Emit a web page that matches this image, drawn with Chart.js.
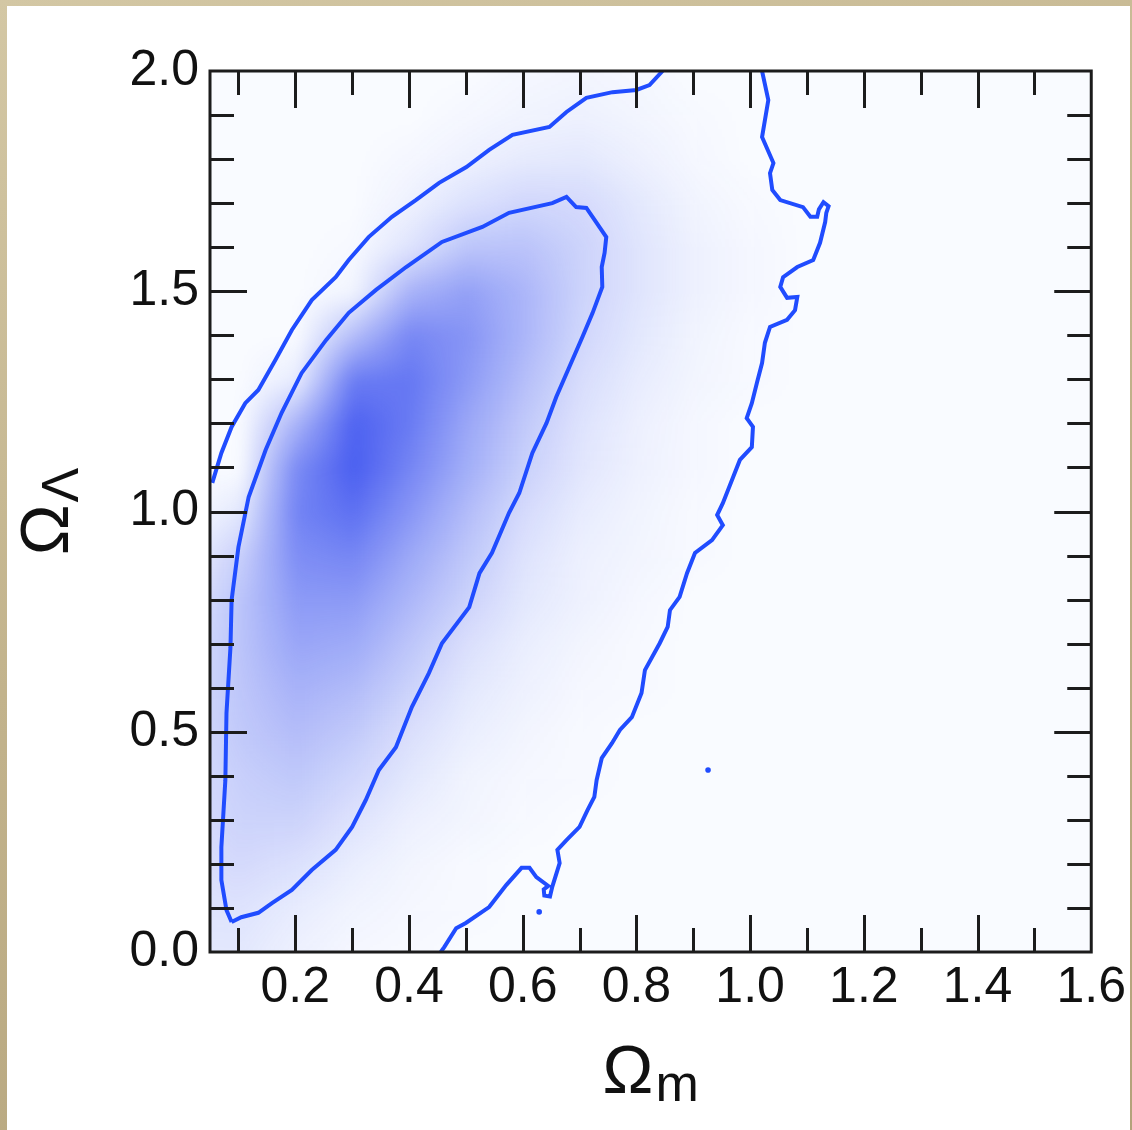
<!DOCTYPE html>
<html>
<head>
<meta charset="utf-8">
<script src="https://cdn.jsdelivr.net/npm/chart.js@4/dist/chart.umd.min.js"></script>
<style>
  html, body { margin: 0; padding: 0; }
  body {
    width: 1132px; height: 1130px; overflow: hidden; position: relative;
    background: linear-gradient(160deg, #d3c7a4 0%, #c2b38c 45%, #b3a27a 100%);
  }
  #panel { position: absolute; left: 7px; top: 6px; width: 1123px; height: 1124px; background: #ffffff; }
  #plot { position: absolute; left: 0; top: 0; }
</style>
</head>
<body>
<div id="panel"></div>
<canvas id="plot" width="1132" height="1130"></canvas>
<script>
// Axis ticks
const xTickLabels = [0.2, 0.4, 0.6, 0.8, 1.0, 1.2, 1.4, 1.6];
const xTickMarks = [0.1, 0.2, 0.3, 0.4, 0.5, 0.6, 0.7, 0.8, 0.9, 1.0, 1.1, 1.2, 1.3, 1.4, 1.5];
const yTickLabels = [0.0, 0.5, 1.0, 1.5, 2.0];
const yTickMarks = [0.1, 0.2, 0.3, 0.4, 0.5, 0.6, 0.7, 0.8, 0.9, 1.0, 1.1, 1.2, 1.3, 1.4, 1.5, 1.6, 1.7, 1.8, 1.9];

// Posterior density on a 0.1 grid (percent of peak shade), rows from Ω_Λ = 2.0 down to 0.0
const densityX = [0.0, 0.1, 0.2, 0.3, 0.4, 0.5, 0.6, 0.7, 0.8, 0.9, 1.0, 1.1, 1.2, 1.3, 1.4, 1.5, 1.6];
const densityY = [2.0, 1.9, 1.8, 1.7, 1.6, 1.5, 1.4, 1.3, 1.2, 1.1, 1.0, 0.9, 0.8, 0.7, 0.6, 0.5, 0.4, 0.3, 0.2, 0.1, 0.0];
const densityRows = [
  [ 0,  0,  0,  0,  0,  0,  2,  3,  2,  0,  0, 0, 0, 0, 0, 0, 0],
  [ 0,  0,  0,  0,  0,  2,  4,  5,  3,  1,  0, 0, 0, 0, 0, 0, 0],
  [ 0,  0,  0,  0,  2,  5,  9, 10,  6,  2,  0, 0, 0, 0, 0, 0, 0],
  [ 0,  0,  0,  0,  5, 14, 20, 18, 10,  4,  1, 0, 0, 0, 0, 0, 0],
  [ 0,  0,  0,  1, 13, 30, 31, 22, 12,  5,  2, 0, 0, 0, 0, 0, 0],
  [ 0,  0,  0,  3, 40, 50, 38, 22, 12,  5,  2, 0, 0, 0, 0, 0, 0],
  [ 0,  0,  0, 34, 64, 56, 38, 20, 10,  4,  1, 0, 0, 0, 0, 0, 0],
  [ 0,  0,  8, 70, 72, 53, 33, 16,  8,  3,  1, 0, 0, 0, 0, 0, 0],
  [ 0,  0, 40, 84, 70, 46, 27, 13,  6,  2,  0, 0, 0, 0, 0, 0, 0],
  [ 0,  0, 62, 86, 64, 42, 23, 11,  5,  2,  0, 0, 0, 0, 0, 0, 0],
  [ 0, 10, 66, 76, 55, 34, 17,  8,  4,  1,  0, 0, 0, 0, 0, 0, 0],
  [ 4, 24, 60, 64, 45, 28, 13,  6,  3,  1,  0, 0, 0, 0, 0, 0, 0],
  [10, 30, 53, 53, 37, 22, 10,  5,  2,  0,  0, 0, 0, 0, 0, 0, 0],
  [14, 30, 47, 44, 29, 15,  7,  3,  1,  0,  0, 0, 0, 0, 0, 0, 0],
  [16, 29, 40, 35, 22, 10,  5,  2,  1,  0,  0, 0, 0, 0, 0, 0, 0],
  [16, 27, 34, 27, 15,  7,  3,  1,  0,  0,  0, 0, 0, 0, 0, 0, 0],
  [16, 24, 28, 20, 10,  4,  2,  1,  0,  0,  0, 0, 0, 0, 0, 0, 0],
  [15, 22, 22, 13,  6,  3,  1,  0,  0,  0,  0, 0, 0, 0, 0, 0, 0],
  [14, 18, 14,  7,  3,  1,  0,  0,  0,  0,  0, 0, 0, 0, 0, 0, 0],
  [12, 13,  8,  4,  2,  1,  0,  0,  0,  0,  0, 0, 0, 0, 0, 0, 0],
  [10, 10,  5,  2,  1,  0,  0,  0,  0,  0,  0, 0, 0, 0, 0, 0, 0]
];

// 68% contour (closed)
const innerContour = [
  [0.088, 0.068], [0.079, 0.095], [0.070, 0.163], [0.070, 0.238], [0.077, 0.390],
  [0.079, 0.543], [0.086, 0.692], [0.088, 0.799], [0.100, 0.919], [0.118, 1.033],
  [0.148, 1.140], [0.176, 1.224], [0.211, 1.314], [0.254, 1.389], [0.294, 1.451],
  [0.342, 1.503], [0.395, 1.555], [0.458, 1.612], [0.529, 1.646], [0.576, 1.678],
  [0.652, 1.700], [0.677, 1.714], [0.694, 1.691], [0.712, 1.689], [0.730, 1.655],
  [0.747, 1.623], [0.744, 1.587], [0.739, 1.555], [0.740, 1.510], [0.723, 1.451],
  [0.705, 1.396], [0.682, 1.328], [0.659, 1.260], [0.642, 1.201], [0.617, 1.133],
  [0.594, 1.042], [0.576, 0.997], [0.546, 0.906], [0.524, 0.860], [0.506, 0.783],
  [0.458, 0.701], [0.435, 0.633], [0.405, 0.556], [0.377, 0.465], [0.347, 0.413],
  [0.324, 0.345], [0.300, 0.284], [0.271, 0.232], [0.229, 0.186], [0.194, 0.141],
  [0.159, 0.111], [0.135, 0.089], [0.105, 0.079], [0.088, 0.068]
];

// 95% contour, upper-left branch
const outerContourLeft = [
  [0.054, 1.065], [0.070, 1.133], [0.088, 1.192], [0.112, 1.246], [0.135, 1.276],
  [0.165, 1.344], [0.194, 1.412], [0.229, 1.480], [0.271, 1.532], [0.294, 1.571],
  [0.329, 1.623], [0.370, 1.669], [0.412, 1.707], [0.453, 1.746], [0.501, 1.782],
  [0.541, 1.821], [0.582, 1.855], [0.647, 1.873], [0.677, 1.907], [0.712, 1.939],
  [0.758, 1.952], [0.800, 1.957], [0.823, 1.968], [0.846, 2.000]
];

// 95% contour, right branch
const outerContourRight = [
  [1.021, 2.000], [1.032, 1.934], [1.021, 1.850], [1.041, 1.791], [1.035, 1.768],
  [1.039, 1.730], [1.053, 1.707], [1.093, 1.691], [1.106, 1.669], [1.118, 1.669],
  [1.121, 1.686], [1.129, 1.702], [1.138, 1.693], [1.134, 1.678], [1.132, 1.657],
  [1.123, 1.610], [1.111, 1.571], [1.083, 1.555], [1.058, 1.532], [1.053, 1.510],
  [1.065, 1.485], [1.083, 1.487], [1.079, 1.457], [1.065, 1.435], [1.035, 1.419],
  [1.026, 1.383], [1.021, 1.337], [1.012, 1.292], [1.003, 1.246], [0.994, 1.212],
  [1.005, 1.192], [1.003, 1.146], [0.982, 1.117], [0.970, 1.078], [0.952, 1.019],
  [0.942, 0.992], [0.952, 0.969], [0.933, 0.935], [0.903, 0.906], [0.889, 0.860],
  [0.876, 0.806], [0.859, 0.776], [0.855, 0.738], [0.841, 0.701], [0.815, 0.640],
  [0.809, 0.588], [0.792, 0.533], [0.771, 0.504], [0.757, 0.474], [0.739, 0.440],
  [0.730, 0.390], [0.726, 0.352], [0.714, 0.322], [0.700, 0.284], [0.677, 0.254],
  [0.661, 0.232], [0.665, 0.202], [0.652, 0.148], [0.648, 0.126], [0.638, 0.128],
  [0.637, 0.142], [0.645, 0.150], [0.624, 0.170], [0.612, 0.191], [0.598, 0.191],
  [0.571, 0.152], [0.541, 0.102], [0.500, 0.066], [0.483, 0.054], [0.462, 0.011],
  [0.456, 0.000]
];

// Stray islands of the 95% contour
const contourSpecks = [[0.629, 0.091], [0.926, 0.413]];

const lineBlue = 'rgb(32, 76, 255)';
const shadeRGB = [44, 68, 238];
const toXY = pts => pts.map(([x, y]) => ({ x, y }));

const densityLayer = {
  id: 'densityLayer',
  beforeDatasetsDraw(chart) {
    const { ctx, chartArea: a, scales: { x, y } } = chart;
    const w = densityX.length, h = densityY.length;
    const off = document.createElement('canvas');
    off.width = w; off.height = h;
    const octx = off.getContext('2d');
    const img = octx.createImageData(w, h);
    densityRows.forEach((row, r) => row.forEach((v, c) => {
      const i = (r * w + c) * 4;
      img.data[i] = shadeRGB[0];
      img.data[i + 1] = shadeRGB[1];
      img.data[i + 2] = shadeRGB[2];
      img.data[i + 3] = Math.round(v / 100 * 255);
    }));
    octx.putImageData(img, 0, 0);

    const x0 = x.getPixelForValue(densityX[0]);
    const y0 = y.getPixelForValue(densityY[0]);
    const dx = x.getPixelForValue(densityX[1]) - x0;
    const dy = y.getPixelForValue(densityY[1]) - y0;

    ctx.save();
    ctx.beginPath();
    ctx.rect(a.left, a.top, a.width, a.height);
    ctx.clip();
    ctx.fillStyle = '#f9fbff';
    ctx.fillRect(a.left, a.top, a.width, a.height);
    ctx.imageSmoothingEnabled = true;
    ctx.imageSmoothingQuality = 'low';
    ctx.filter = 'blur(7px)';
    ctx.drawImage(off, x0 - dx / 2, y0 - dy / 2, dx * w, dy * h);
    ctx.restore();
  }
};

const frameTicks = {
  id: 'frameTicks',
  afterDatasetsDraw(chart) {
    const { ctx, chartArea: a, scales: { x, y } } = chart;
    const major = 37, minor = 24;
    ctx.save();
    ctx.strokeStyle = '#1c1c1c';
    ctx.lineWidth = 3;
    ctx.beginPath();
    xTickMarks.forEach(v => {
      const px = Math.round(x.getPixelForValue(v)) + 0.5;
      const len = Math.round(v * 10) % 2 === 0 ? major : minor;
      ctx.moveTo(px, a.bottom); ctx.lineTo(px, a.bottom - len);
      ctx.moveTo(px, a.top); ctx.lineTo(px, a.top + len);
    });
    yTickMarks.forEach(v => {
      const py = Math.round(y.getPixelForValue(v)) + 0.5;
      const len = Math.round(v * 10) % 5 === 0 ? major : minor;
      ctx.moveTo(a.left, py); ctx.lineTo(a.left + len, py);
      ctx.moveTo(a.right, py); ctx.lineTo(a.right - len, py);
    });
    ctx.stroke();
    ctx.strokeRect(a.left, a.top, a.width, a.height);
    ctx.restore();
  }
};

const axisTitles = {
  id: 'axisTitles',
  afterDraw(chart) {
    const { ctx, chartArea: a } = chart;
    ctx.save();
    ctx.fillStyle = '#111111';
    ctx.textBaseline = 'alphabetic';
    ctx.textAlign = 'left';

    // Ω_m under the x axis
    const bigFont = '68px "Liberation Sans", Arial, sans-serif';
    const subFont = '52px "Liberation Sans", Arial, sans-serif';
    ctx.font = bigFont;
    const wO = ctx.measureText('Ω').width;
    ctx.font = subFont;
    const wm = ctx.measureText('m').width;
    let sx = (a.left + a.right) / 2 - (wO + wm + 2) / 2;
    ctx.font = bigFont;
    ctx.fillText('Ω', sx, 1093);
    ctx.font = subFont;
    ctx.fillText('m', sx + wO + 2, 1101);

    // Ω_Λ beside the y axis, reading upward
    ctx.translate(68, (a.top + a.bottom) / 2);
    ctx.rotate(-Math.PI / 2);
    ctx.font = subFont;
    const wL = ctx.measureText('Λ').width;
    sx = -(wO + wL + 2) / 2;
    ctx.font = bigFont;
    ctx.fillText('Ω', sx, 0);
    ctx.font = subFont;
    ctx.fillText('Λ', sx + wO + 2, 10);
    ctx.restore();
  }
};

const tickFont = { family: '"Liberation Sans", Arial, sans-serif', size: 50 };
const contourLine = { showLine: true, borderColor: lineBlue, borderWidth: 4, pointRadius: 0, tension: 0 };

new Chart(document.getElementById('plot'), {
  type: 'scatter',
  data: {
    datasets: [
      { label: 'inner', data: toXY(innerContour), ...contourLine },
      { label: 'outer-left', data: toXY(outerContourLeft), ...contourLine },
      { label: 'outer-right', data: toXY(outerContourRight), ...contourLine },
      {
        label: 'specks',
        data: toXY(contourSpecks),
        showLine: false,
        pointRadius: 2.8,
        pointBorderWidth: 0,
        pointBackgroundColor: lineBlue
      }
    ]
  },
  options: {
    responsive: false,
    animation: false,
    layout: { padding: { left: 0, top: 71, right: 40, bottom: 0 } },
    plugins: { legend: { display: false }, tooltip: { enabled: false } },
    scales: {
      x: {
        type: 'linear',
        min: 0.05,
        max: 1.6,
        grid: { display: false, drawTicks: false },
        border: { display: false },
        afterBuildTicks: s => { s.ticks = xTickLabels.map(v => ({ value: v })); },
        afterFit: s => { s.height = 178; },
        ticks: {
          autoSkip: false,
          maxRotation: 0,
          padding: 6,
          color: '#111111',
          font: tickFont,
          callback: v => v.toFixed(1)
        }
      },
      y: {
        type: 'linear',
        min: 0,
        max: 2,
        grid: { display: false, drawTicks: false },
        border: { display: false },
        afterBuildTicks: s => { s.ticks = yTickLabels.map(v => ({ value: v })); },
        afterFit: s => { s.width = 210; },
        ticks: {
          autoSkip: false,
          padding: 11,
          color: '#111111',
          font: tickFont,
          callback: v => v.toFixed(1)
        }
      }
    }
  },
  plugins: [densityLayer, frameTicks, axisTitles]
});
</script>
</body>
</html>
